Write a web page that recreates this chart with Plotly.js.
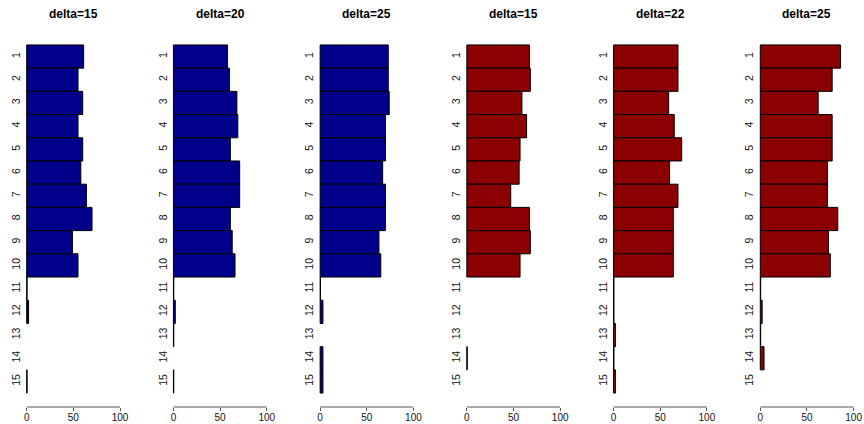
<!DOCTYPE html>
<html>
<head>
<meta charset="utf-8">
<script src="https://cdn.plot.ly/plotly-3.0.1.min.js"></script>
<style>html,body{margin:0;padding:0;background:#fff;}#chart{width:864px;height:424px;}</style>
</head>
<body>
<div id="chart"></div>
<script>
// Categories (top to bottom)
const categories = ['1','2','3','4','5','6','7','8','9','10','11','12','13','14','15'];
const panelTitles = ['delta=15','delta=20','delta=25','delta=15','delta=22','delta=25'];
const xTicks = [0, 50, 100];
const xTickLabels = ['0', '50', '100'];

// Series values (null = no bar drawn)
const blueDelta15 = [61, 55, 60, 55, 60, 58, 64, 70, 49, 55, 0.4, 2, null, null, 0.4];
const blueDelta20 = [58, 60, 68, 69, 61, 71, 71, 61, 63, 66, 0.4, 2, 0.4, null, 0.4];
const blueDelta25 = [73, 73, 74, 70, 70, 67, 70, 70, 63, 65, 0.4, 3, null, 3, 3];
const redDelta15  = [67, 68, 59, 64, 57, 56, 47, 67, 68, 57, null, null, null, 0.4, null];
const redDelta22  = [69, 69, 59, 65, 73, 60, 69, 64, 64, 64, 0.4, 0.4, 2, 0.4, 2];
const redDelta25  = [86, 77, 62, 77, 77, 72, 72, 83, 73, 75, 0.4, 2, 0.4, 4, null];

const seriesList = [blueDelta15, blueDelta20, blueDelta25, redDelta15, redDelta22, redDelta25];
const colors = ['#00008B','#00008B','#00008B','#8B0000','#8B0000','#8B0000'];

const W = 864, H = 424;
const pxPerUnit = 0.9333;
const zeroPx0 = 26.7, panelStep = 146.72;
const yTop = 31, yBot = 407;
const yDomain = [1 - yBot / H, 1 - yTop / H];

const data = [];
const layout = {
  width: W, height: H,
  margin: {l: 0, r: 0, t: 0, b: 0},
  paper_bgcolor: '#fff', plot_bgcolor: '#fff',
  showlegend: false,
  bargap: 0,
  font: {family: 'Liberation Sans, Arial, sans-serif', color: '#000'},
  annotations: [],
  shapes: []
};

seriesList.forEach((vals, i) => {
  const n = i + 1;
  const sx = n === 1 ? '' : String(n);
  const zero = zeroPx0 + panelStep * i;
  const left = zero - 4 * pxPerUnit;
  const right = zero + 104 * pxPerUnit;
  data.push({
    type: 'bar',
    orientation: 'h',
    x: vals,
    y: categories,
    xaxis: 'x' + sx,
    yaxis: 'y' + sx,
    width: 1,
    marker: {color: colors[i], line: {color: '#000', width: 1}},
    hoverinfo: 'x+y'
  });
  layout['xaxis' + sx] = {
    domain: [left / W, right / W],
    anchor: 'y' + sx,
    range: [-4, 104],
    tickvals: xTicks,
    ticktext: xTickLabels,
    ticks: 'outside',
    ticklen: 3,
    tickcolor: '#555',
    tickwidth: 1,
    showline: false,
    showgrid: false,
    zeroline: false,
    ticklabelstandoff: -2,
    tickfont: {size: 10, color: '#111'},
    fixedrange: true
  };
  layout['yaxis' + sx] = {
    domain: yDomain,
    anchor: 'x' + sx,
    type: 'category',
    categoryorder: 'array',
    categoryarray: categories,
    range: [categories.length - 0.5 + 0.6, -0.5 - 0.6],
    showline: false,
    showgrid: false,
    zeroline: false,
    ticks: '',
    tickangle: -90,
    ticklabelstandoff: 0,
    tickfont: {size: 10.5, color: '#111'},
    fixedrange: true
  };
  layout.shapes.push({
    type: 'line',
    xref: 'x' + sx, yref: 'paper',
    x0: xTicks[0], x1: xTicks[xTicks.length - 1],
    y0: yDomain[0], y1: yDomain[0],
    line: {color: '#555', width: 1}
  });
  layout.annotations.push({
    text: '<b>' + panelTitles[i] + '</b>',
    xref: 'paper', yref: 'paper',
    x: (left + right) / 2 / W, y: 1 - 14 / H,
    xanchor: 'center', yanchor: 'middle',
    showarrow: false,
    font: {size: 12, color: '#000'}
  });
});

Plotly.newPlot('chart', data, layout, {displayModeBar: false, staticPlot: true});
</script>
</body>
</html>
